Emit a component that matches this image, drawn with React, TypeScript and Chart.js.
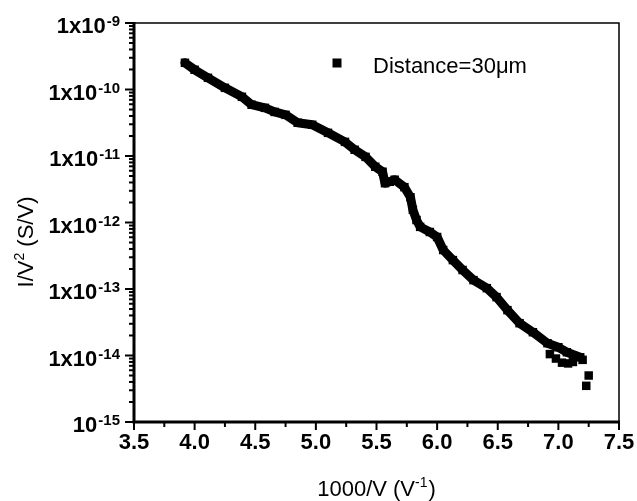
import { useEffect, useRef } from "react";
import { Chart, registerables } from "chart.js";

Chart.register(...registerables);

// Main band of measured points (1000/V, I/V^2)
const curveX = [
  3.92, 4.0, 4.11, 4.25, 4.39, 4.47, 4.58, 4.66, 4.75, 4.85, 4.97, 5.1, 5.24, 5.32,
  5.41, 5.49, 5.55, 5.57, 5.61, 5.65, 5.73, 5.78, 5.8, 5.83, 5.86, 5.94, 6.0, 6.05,
  6.13, 6.21, 6.3, 6.41, 6.49, 6.58, 6.68, 6.79, 6.91, 7.0, 7.07, 7.18,
];
const curveY = [
  2.52e-10, 1.98e-10, 1.5e-10, 1.06e-10, 7.76e-11, 5.9e-11, 5.3e-11, 4.6e-11, 4.16e-11,
  3.16e-11, 2.95e-11, 2.23e-11, 1.63e-11, 1.24e-11, 9.7e-12, 6.9e-12, 5.8e-12, 3.9e-12,
  4.1e-12, 4.4e-12, 3.4e-12, 2.4e-12, 1.55e-12, 1.09e-12, 8.6e-13, 7.2e-13, 6.05e-13,
  3.86e-13, 2.72e-13, 1.93e-13, 1.36e-13, 1.03e-13, 7.55e-14, 4.81e-14, 3.06e-14,
  2.24e-14, 1.53e-14, 1.33e-14, 1.12e-14, 9.4e-15,
];
// scattered points at the low-field tail
const tailX = [6.93, 6.98, 7.03, 7.08, 7.12, 7.2, 7.25, 7.23];
const tailY = [1.05e-14, 9.0e-15, 7.8e-15, 7.6e-15, 8.0e-15, 8.6e-15, 5.0e-15, 3.5e-15];

const xTickValues = [3.5, 4.0, 4.5, 5.0, 5.5, 6.0, 6.5, 7.0, 7.5];
const xTickLabels = ["3.5", "4.0", "4.5", "5.0", "5.5", "6.0", "6.5", "7.0", "7.5"];
const yTickValues = [1e-9, 1e-10, 1e-11, 1e-12, 1e-13, 1e-14, 1e-15];
const yTickBases = ["1x10", "1x10", "1x10", "1x10", "1x10", "1x10", "10"];
const yTickExponents = ["-9", "-10", "-11", "-12", "-13", "-14", "-15"];

const legendLabel = "Distance=30\u03bcm";
const xTitleMain = "1000/V (V";
const xTitleSup = "-1";
const xTitleEnd = ")";
const yTitleMain = "I/V";
const yTitleSup = "2";
const yTitleEnd = " (S/V)";

const FONT = '"Liberation Sans", Arial, Helvetica, sans-serif';

const framePlugin = {
  id: "frameAndLabels",
  afterDraw(chart: any) {
    const ctx: CanvasRenderingContext2D = chart.ctx;
    const { left, right, top, bottom } = chart.chartArea;
    const xs = chart.scales.x;
    const ys = chart.scales.y;
    ctx.save();
    ctx.strokeStyle = "#000";
    ctx.fillStyle = "#000";

    // top & right thin frame
    ctx.lineWidth = 1.5;
    ctx.beginPath();
    ctx.moveTo(left, top);
    ctx.lineTo(right, top);
    ctx.lineTo(right, bottom);
    ctx.stroke();
    // left & bottom axes
    ctx.lineWidth = 3;
    ctx.beginPath();
    ctx.moveTo(left, top - 1);
    ctx.lineTo(left, bottom);
    ctx.lineTo(right + 1, bottom);
    ctx.stroke();

    // y ticks
    ctx.lineWidth = 2;
    for (let i = 0; i < yTickValues.length; i++) {
      const v = yTickValues[i];
      const y = ys.getPixelForValue(v);
      ctx.beginPath();
      ctx.moveTo(left - 9, y);
      ctx.lineTo(left, y);
      ctx.stroke();
      if (i > 0) {
        for (let m = 2; m <= 9; m++) {
          const ym = ys.getPixelForValue(v * m);
          ctx.beginPath();
          ctx.moveTo(left - 5, ym);
          ctx.lineTo(left, ym);
          ctx.stroke();
        }
      }
    }
    // x ticks
    for (let i = 0; i < xTickValues.length; i++) {
      const x = xs.getPixelForValue(xTickValues[i]);
      ctx.beginPath();
      ctx.moveTo(x, bottom);
      ctx.lineTo(x, bottom + 8);
      ctx.stroke();
      if (i < xTickValues.length - 1) {
        const xm = xs.getPixelForValue((xTickValues[i] + xTickValues[i + 1]) / 2);
        ctx.beginPath();
        ctx.moveTo(xm, bottom);
        ctx.lineTo(xm, bottom + 5);
        ctx.stroke();
      }
    }

    // x tick labels
    ctx.font = `bold 22px ${FONT}`;
    ctx.textAlign = "center";
    ctx.textBaseline = "alphabetic";
    for (let i = 0; i < xTickValues.length; i++) {
      const x = xs.getPixelForValue(xTickValues[i]);
      ctx.fillText(xTickLabels[i], x, bottom + 27);
    }

    // y tick labels with superscript exponents
    const rightEdge = left - 14;
    for (let i = 0; i < yTickValues.length; i++) {
      const y = ys.getPixelForValue(yTickValues[i]);
      ctx.font = `bold 15px ${FONT}`;
      ctx.textAlign = "right";
      const supW = ctx.measureText(yTickExponents[i]).width;
      ctx.fillText(yTickExponents[i], rightEdge, y + 3);
      ctx.font = `bold 22px ${FONT}`;
      ctx.fillText(yTickBases[i], rightEdge - supW - 1, y + 10);
    }

    // x title
    const cx = (left + right) / 2;
    ctx.textAlign = "left";
    ctx.font = `22px ${FONT}`;
    const w1 = ctx.measureText(xTitleMain).width;
    const w3 = ctx.measureText(xTitleEnd).width;
    ctx.font = `14px ${FONT}`;
    const w2 = ctx.measureText(xTitleSup).width;
    const sx = cx - (w1 + w2 + w3 + 1) / 2;
    ctx.font = `22px ${FONT}`;
    ctx.fillText(xTitleMain, sx, 496);
    ctx.font = `14px ${FONT}`;
    ctx.fillText(xTitleSup, sx + w1, 487);
    ctx.font = `22px ${FONT}`;
    ctx.fillText(xTitleEnd, sx + w1 + w2 + 1, 496);

    // y title (rotated)
    ctx.font = `22px ${FONT}`;
    const t1 = ctx.measureText(yTitleMain).width;
    const t3 = ctx.measureText(yTitleEnd).width;
    ctx.font = `14px ${FONT}`;
    const t2 = ctx.measureText(yTitleSup).width;
    const total = t1 + t2 + t3;
    ctx.save();
    ctx.translate(33, 242 + total / 2);
    ctx.rotate(-Math.PI / 2);
    ctx.font = `22px ${FONT}`;
    ctx.fillText(yTitleMain, 0, 0);
    ctx.font = `14px ${FONT}`;
    ctx.fillText(yTitleSup, t1, -9);
    ctx.font = `22px ${FONT}`;
    ctx.fillText(yTitleEnd, t1 + t2, 0);
    ctx.restore();

    // legend
    ctx.fillRect(337 - 4.5, 63 - 4.5, 9, 9);
    ctx.font = `22px ${FONT}`;
    ctx.textAlign = "left";
    ctx.fillText(legendLabel, 373, 73);

    ctx.restore();
  },
};

export default function App() {
  const canvasRef = useRef<HTMLCanvasElement | null>(null);

  useEffect(() => {
    if (!canvasRef.current) return;
    const chart = new Chart(canvasRef.current, {
      type: "scatter",
      data: {
        datasets: [
          {
            label: legendLabel,
            data: curveX.map((x, i) => ({ x, y: curveY[i] })),
            showLine: true,
            borderColor: "#000",
            backgroundColor: "#000",
            borderWidth: 9,
            borderJoinStyle: "round",
            borderCapStyle: "round",
            pointStyle: "rect",
            pointRadius: 6,
            pointBorderWidth: 0,
          },
          {
            label: "tail",
            data: tailX.map((x, i) => ({ x, y: tailY[i] })),
            showLine: false,
            backgroundColor: "#000",
            borderColor: "#000",
            pointStyle: "rect",
            pointRadius: 6,
            pointBorderWidth: 0,
          },
        ],
      },
      options: {
        responsive: false,
        animation: false,
        layout: { padding: { left: 134, right: 18, top: 23, bottom: 79 } },
        plugins: {
          legend: { display: false },
          tooltip: { enabled: false },
        },
        scales: {
          x: { type: "linear", min: 3.5, max: 7.5, display: false },
          y: { type: "logarithmic", min: 1e-15, max: 1e-9, display: false },
        },
      },
      plugins: [framePlugin],
    });
    return () => chart.destroy();
  }, []);

  return (
    <div style={{ position: "fixed", left: 0, top: 0, width: 637, height: 501, background: "#fff" }}>
      <canvas ref={canvasRef} width={637} height={501} />
    </div>
  );
}
